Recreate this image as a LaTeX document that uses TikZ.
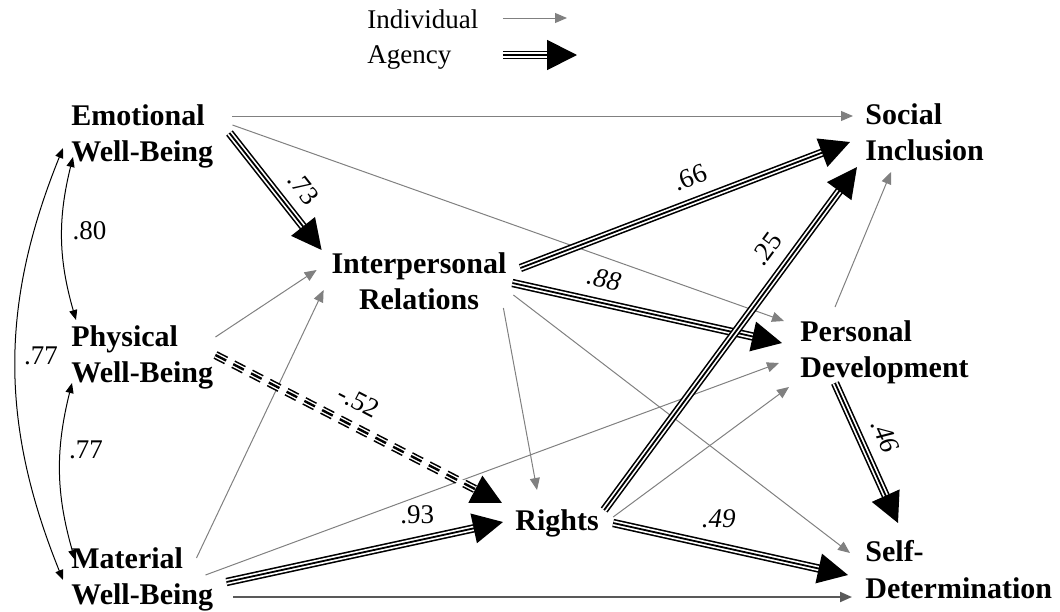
\documentclass[tikz,border=0pt]{standalone}
\usepackage{fontspec}
\setmainfont{Liberation Serif}
\usetikzlibrary{arrows.meta}

\begin{document}
\begin{tikzpicture}[x=0.5pt, y=-0.5pt,
    var/.style={font=\fontsize{15}{18.25}\selectfont\bfseries, inner sep=0pt, align=left, anchor=north west},
    lbl/.style={font=\fontsize{13.5}{16}\selectfont, inner sep=1pt},
    indiv/.style={draw=black!50, line width=0.5pt, -{Triangle[length=6pt,width=5pt]}},
    indivdark/.style={draw=black!65, line width=1pt, -{Triangle[length=6pt,width=5pt]}},
    agency/.style={line width=0.9pt, -{Triangle[length=15pt,width=15pt]},
        preaction={draw, -, line width=4.2pt, shorten >=10pt},
        preaction={draw=white, -, solid, line width=2.6pt, shorten >=10pt}},
    agencydash/.style={line width=1.2pt, dash pattern=on 6pt off 4pt, -{Triangle[length=15pt,width=15pt]},
        preaction={draw, -, line width=4.2pt, dash pattern=on 6pt off 4pt, shorten >=10pt},
        preaction={draw=white, -, solid, line width=2.6pt, shorten >=10pt}},
    corr/.style={{Triangle[length=5pt,width=4pt]}-{Triangle[length=5pt,width=4pt]}, line width=0.5pt}
]
\useasboundingbox (0,0) rectangle (1060,611);

% legend
\node[lbl, anchor=base west, inner sep=0pt] (lgind) at (367,28) {Individual};
\node[lbl, anchor=base west, inner sep=0pt] (lgag) at (367,63) {Agency};
\coordinate (lgindend) at (567,18);
\coordinate (lgagend) at (577,55);
\draw[indiv] ([shift={(24,-10)}]lgind.base east) -- (lgindend);
\draw[agency] ([shift={(51,-8)}]lgag.base east) -- (lgagend);

% domains
\node[var] (emo) at (71,104) {Emotional\\Well-Being};
\node[var] (phy) at (71,325) {Physical\\Well-Being};
\node[var] (mat) at (71,547) {Material\\Well-Being};
\node[var, align=center, anchor=north] (inter) at (419,252) {Interpersonal\\Relations};
\node[var] (rights) at (515,509) {Rights};
\node[var] (soc) at (865,103) {Social\\Inclusion};
\node[var] (pers) at (800,320) {Personal\\Development};
\node[var] (self) at (865,540) {Self-\\Determination};

% correlations
\draw[corr] ([shift={(2,53)}]emo.north west) to[bend right=15] node[lbl, right=4pt, pos=.45] {.80} ([shift={(5,-5)}]phy.north west);
\draw[corr] ([shift={(1,58)}]phy.north west) to[bend right=15] node[lbl, right=3pt, pos=.37] {.77} ([shift={(4,13)}]mat.north west);
\draw[corr] ([shift={(-8,44)}]emo.north west) to[bend right=22] node[lbl, right=3pt, pos=.48] {.77} ([shift={(-8,33)}]mat.north west);

% individual paths
\draw[indiv] ([shift={(19,12)}]emo.north east) -- ([shift={(-12,13)}]soc.north west);
\draw[indiv] ([shift={(19,21)}]emo.north east) -- ([shift={(-16,1)}]pers.north west);
\draw[indiv] ([shift={(2,12)}]phy.north east) -- ([shift={(-14.5,18)}]inter.north west);
\draw[indiv] ([shift={(-17,11)}]mat.north east) -- ([shift={(-7.5,38)}]inter.north west);
\draw[indiv] ([shift={(-8,28)}]mat.north east) -- ([shift={(-21,43)}]pers.north west);
\draw[indivdark] ([shift={(20,50)}]mat.north east) -- ([shift={(-13,57)}]self.north west);
\draw[indiv] ([shift={(-3.5,56)}]inter.north east) -- ([shift={(22,-19)}]rights.north west);
\draw[indiv] ([shift={(6.5,43)}]inter.north east) -- ([shift={(-15,13)}]self.north west);
\draw[indiv] ([shift={(14,8)}]rights.north east) -- ([shift={(-11,67)}]pers.north west);
\draw[indiv] ([shift={(35,-13)}]pers.north west) -- ([shift={(26,69)}]soc.north west);

% agency paths
\draw[agency] ([shift={(16,29)}]emo.north east) -- node[lbl, sloped, above=6pt, pos=.6] {.73} ([shift={(-9.5,-2)}]inter.north west);
\draw[agencydash] ([shift={(2,30)}]phy.north east) -- node[lbl, sloped, above=6pt, pos=.46] {-.52} ([shift={(-13,-6)}]rights.north west);
\draw[agency] ([shift={(13,35)}]mat.north east) -- node[lbl, above=7pt, pos=.69] {.93} ([shift={(-12,13)}]rights.north west);
\draw[agency] ([shift={(13.5,16)}]inter.north east) -- node[lbl, sloped, above=6pt, pos=.54] {.66} ([shift={(-15,39)}]soc.north west);
\draw[agency] ([shift={(5.5,31)}]inter.north east) -- node[lbl, sloped, above=6pt, pos=.32] {\itshape .88} ([shift={(-18,23)}]pers.north west);
\draw[agency] ([shift={(5,1)}]rights.north east) -- node[lbl, sloped, above=6pt, pos=.72] {.25} ([shift={(-8,64)}]soc.north west);
\draw[agency] ([shift={(14,14)}]rights.north east) -- node[lbl, above=8pt, pos=.45] {\itshape .49} ([shift={(-17,35)}]self.north west);
\draw[agency] ([shift={(35,63)}]pers.north west) -- node[lbl, sloped, above=6pt, pos=.45] {\itshape .46} ([shift={(33,-17)}]self.north west);
\end{tikzpicture}
\end{document}
